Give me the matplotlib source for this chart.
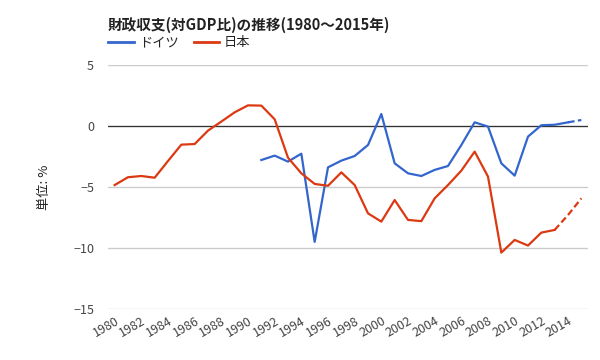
import matplotlib.pyplot as plt
import numpy as np

plt.rcParams['font.family'] = ['Noto Sans CJK JP', 'DejaVu Sans']

years = list(range(1980, 2016))
japan = [-4.84, -4.2, -4.1, -4.24, -2.87, -1.53, -1.48, -0.38, 0.36, 1.12,
         1.69, 1.67, 0.55, -2.6, -3.88, -4.75, -4.9, -3.8, -4.84, -7.16,
         -7.84, -6.07, -7.7, -7.8, -5.93, -4.84, -3.66, -2.1, -4.15, -10.38,
         -9.34, -9.8, -8.74, -8.52, -7.3, -5.93]
germany = [None] * 11 + [-2.79, -2.43, -2.92, -2.27, -9.5, -3.39, -2.84, -2.46, -1.56,
                         0.98, -3.06, -3.88, -4.1, -3.6, -3.28, -1.56, 0.3, -0.05, -3.06,
                         -4.07, -0.87, 0.06, 0.1, 0.3, 0.49]
japan_est_from = 2013
germany_est_from = 2014

blue = '#3366cc'
red = '#dc3912'

fig = plt.figure(figsize=(6, 3.6), dpi=100)
ax = fig.add_axes([0.18, 0.1417, 0.80, 0.6778])

yrs = np.array(years)
g = np.array([np.nan if v is None else v for v in germany])
j = np.array(japan)

ax.axhline(0, color='#333333', lw=0.9, zorder=1)

gi = years.index(germany_est_from)
ax.plot(yrs[:gi + 1], g[:gi + 1], color=blue, lw=1.6, zorder=3)
ax.plot(yrs[gi:], g[gi:], color=blue, lw=1.6, ls=(0, (3, 1.5)), zorder=3)
ji = years.index(japan_est_from)
ax.plot(yrs[:ji + 1], j[:ji + 1], color=red, lw=1.6, zorder=3)
ax.plot(yrs[ji:], j[ji:], color=red, lw=1.6, ls=(0, (3, 1.5)), zorder=3)

ax.set_xlim(1979.5, 2015.5)
ax.set_ylim(-15, 5)
ax.set_yticks([5, 0, -5, -10, -15])
ax.yaxis.grid(True, color='#cccccc', lw=1)
ax.set_axisbelow(True)
for s in ax.spines.values():
    s.set_visible(False)
ax.set_xticks(years[::2])
ax.set_xticklabels([str(y) for y in years[::2]], rotation=30, ha='right',
                   rotation_mode='anchor')
ax.tick_params(length=0, labelsize=9, labelcolor='#444444')
ax.tick_params(axis='y', pad=10)
ax.tick_params(axis='x', pad=4)
ax.set_ylabel('単位: %', fontsize=9.5, color='#222222', labelpad=16)

fig.text(0.18, 0.93, '財政収支(対GDP比)の推移(1980～2015年)', fontsize=10.5,
         fontweight='bold', color='#222222', va='center')
fig.lines.append(plt.Line2D([0.18, 0.223], [0.882, 0.882], color=blue, lw=2,
                            transform=fig.transFigure))
fig.text(0.232, 0.882, 'ドイツ', fontsize=9.5, color='#222222', va='center')
fig.lines.append(plt.Line2D([0.323, 0.365], [0.882, 0.882], color=red, lw=2,
                            transform=fig.transFigure))
fig.text(0.373, 0.882, '日本', fontsize=9.5, color='#222222', va='center')

plt.savefig('out.png', dpi=100)
